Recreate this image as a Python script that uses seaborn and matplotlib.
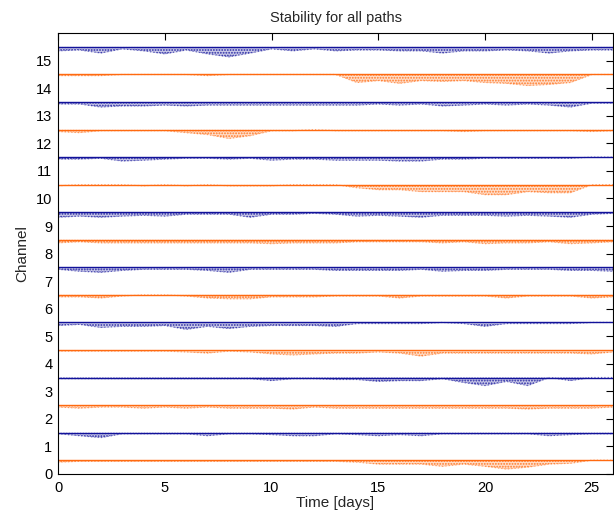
import numpy as np
import pandas as pd
import matplotlib
matplotlib.use("Agg")
import matplotlib.pyplot as plt
import seaborn as sns

# ---------------- data ----------------
title = "Stability for all paths"
x_label = "Time [days]"
y_label = "Channel"
x_ticks = [0, 5, 10, 15, 20, 25]
y_ticks = list(range(16))

# sample days for the read-off envelopes
days = list(range(27))
channels = list(range(16))
baselines = [c + 0.5 for c in channels]

# depth of scattered samples below each channel's baseline (channel units), read at each day
depth_ch0 = [0.07, 0.04, 0.04, 0.04, 0.04, 0.04, 0.04, 0.04, 0.04, 0.04, 0.04, 0.04, 0.04, 0.04, 0.07, 0.14, 0.14, 0.14, 0.22, 0.14, 0.22, 0.32, 0.25, 0.14, 0.11, 0.0, 0.0]
depth_ch1 = [0.04, 0.11, 0.18, 0.04, 0.04, 0.04, 0.04, 0.11, 0.04, 0.04, 0.07, 0.11, 0.11, 0.04, 0.07, 0.11, 0.07, 0.11, 0.04, 0.04, 0.04, 0.04, 0.04, 0.11, 0.07, 0.04, 0.04]
depth_ch2 = [0.07, 0.11, 0.07, 0.07, 0.11, 0.07, 0.11, 0.07, 0.11, 0.11, 0.11, 0.14, 0.07, 0.11, 0.11, 0.11, 0.11, 0.11, 0.11, 0.11, 0.11, 0.11, 0.14, 0.11, 0.11, 0.11, 0.07]
depth_ch3 = [0.04, 0.04, 0.04, 0.04, 0.04, 0.04, 0.04, 0.04, 0.04, 0.04, 0.11, 0.04, 0.04, 0.07, 0.07, 0.14, 0.11, 0.11, 0.04, 0.18, 0.29, 0.14, 0.29, 0.0, 0.11, 0.0, 0.0]
depth_ch4 = [0.04, 0.04, 0.04, 0.04, 0.04, 0.04, 0.07, 0.11, 0.04, 0.07, 0.14, 0.18, 0.14, 0.11, 0.11, 0.07, 0.11, 0.22, 0.11, 0.11, 0.11, 0.11, 0.11, 0.11, 0.11, 0.14, 0.07]
depth_ch5 = [0.11, 0.07, 0.18, 0.14, 0.14, 0.11, 0.25, 0.14, 0.22, 0.14, 0.11, 0.11, 0.11, 0.14, 0.04, 0.04, 0.04, 0.04, 0.0, 0.04, 0.14, 0.04, 0.04, 0.04, 0.04, 0.0, 0.0]
depth_ch6 = [0.07, 0.07, 0.11, 0.04, 0.0, 0.0, 0.04, 0.11, 0.14, 0.14, 0.07, 0.07, 0.07, 0.04, 0.04, 0.04, 0.11, 0.04, 0.04, 0.04, 0.04, 0.11, 0.04, 0.04, 0.04, 0.11, 0.07]
depth_ch7 = [0.07, 0.14, 0.18, 0.11, 0.07, 0.07, 0.07, 0.11, 0.18, 0.07, 0.07, 0.07, 0.07, 0.11, 0.11, 0.11, 0.11, 0.07, 0.14, 0.11, 0.11, 0.07, 0.07, 0.07, 0.11, 0.11, 0.14]
depth_ch8 = [0.11, 0.07, 0.11, 0.11, 0.11, 0.11, 0.11, 0.11, 0.11, 0.11, 0.14, 0.11, 0.11, 0.11, 0.07, 0.07, 0.07, 0.07, 0.11, 0.07, 0.14, 0.11, 0.11, 0.07, 0.14, 0.11, 0.07]
depth_ch9 = [0.18, 0.14, 0.18, 0.14, 0.11, 0.14, 0.07, 0.07, 0.07, 0.18, 0.07, 0.07, 0.04, 0.07, 0.14, 0.11, 0.14, 0.18, 0.11, 0.11, 0.11, 0.14, 0.11, 0.14, 0.18, 0.07, 0.04]
depth_ch10 = [0.04, 0.0, 0.0, 0.0, 0.04, 0.0, 0.04, 0.0, 0.04, 0.04, 0.04, 0.0, 0.0, 0.0, 0.11, 0.18, 0.18, 0.25, 0.25, 0.25, 0.36, 0.36, 0.25, 0.29, 0.29, 0.0, 0.0]
depth_ch11 = [0.07, 0.07, 0.04, 0.14, 0.11, 0.07, 0.04, 0.04, 0.07, 0.04, 0.11, 0.07, 0.07, 0.11, 0.11, 0.11, 0.14, 0.14, 0.07, 0.07, 0.04, 0.04, 0.04, 0.04, 0.04, 0.0, 0.0]
depth_ch12 = [0.07, 0.11, 0.04, 0.04, 0.04, 0.04, 0.11, 0.18, 0.32, 0.22, 0.04, 0.04, 0.0, 0.04, 0.04, 0.04, 0.04, 0.04, 0.04, 0.07, 0.04, 0.04, 0.04, 0.04, 0.04, 0.07, 0.04]
depth_ch13 = [0.07, 0.07, 0.18, 0.14, 0.14, 0.11, 0.14, 0.11, 0.11, 0.11, 0.11, 0.11, 0.11, 0.11, 0.11, 0.07, 0.11, 0.07, 0.14, 0.11, 0.07, 0.11, 0.07, 0.11, 0.18, 0.04, 0.04]
depth_ch14 = [0.04, 0.04, 0.04, 0.0, 0.0, 0.0, 0.0, 0.04, 0.0, 0.0, 0.0, 0.0, 0.0, 0.0, 0.29, 0.22, 0.32, 0.22, 0.25, 0.22, 0.29, 0.32, 0.40, 0.36, 0.29, 0.0, 0.0]
depth_ch15 = [0.14, 0.11, 0.22, 0.07, 0.14, 0.25, 0.11, 0.25, 0.36, 0.22, 0.07, 0.14, 0.07, 0.14, 0.11, 0.11, 0.14, 0.14, 0.22, 0.14, 0.14, 0.11, 0.14, 0.22, 0.14, 0.11, 0.11]

depths = [depth_ch0, depth_ch1, depth_ch2, depth_ch3, depth_ch4, depth_ch5, depth_ch6, depth_ch7,
          depth_ch8, depth_ch9, depth_ch10, depth_ch11, depth_ch12, depth_ch13, depth_ch14, depth_ch15]

# ---------------- style ----------------
sns.set_theme(style="white")
plt.rcParams["font.family"] = ["Liberation Sans", "DejaVu Sans"]
plt.rcParams["hatch.linewidth"] = 0.9

ORANGE = "#ff6a10"
BLUE = "#12129a"
colors = [ORANGE if c % 2 == 0 else BLUE for c in channels]

fig = plt.figure(figsize=(6.14, 5.18), dpi=100)
ax = fig.add_axes([0.0945, 0.085, 0.904, 0.851])

rows = []
for c, base, dep in zip(channels, baselines, depths):
    for d, v in zip(days, dep):
        rows.append({"day": d, "channel": c, "low": base - v, "base": base})
df = pd.DataFrame(rows)

for c, col in zip(channels, colors):
    sub = df[df["channel"] == c]
    ax.fill_between(sub["day"], sub["low"], sub["base"], facecolor=col, alpha=0.22, linewidth=0)
    ax.fill_between(sub["day"], sub["low"], sub["base"], facecolor="none", edgecolor=col,
                    hatch="......", linewidth=0, alpha=0.85)
    sns.lineplot(data=sub, x="day", y="low", ax=ax, color=col, lw=0.9, alpha=0.55,
                 linestyle=":", estimator=None, legend=False)

base_df = pd.DataFrame({"day": [0, 26] * 16,
                        "base": [b for b in baselines for _ in range(2)],
                        "channel": [c for c in channels for _ in range(2)]})
for c, col in zip(channels, colors):
    sub = base_df[base_df["channel"] == c]
    sns.lineplot(data=sub, x="day", y="base", ax=ax, color=col, lw=1.0,
                 estimator=None, legend=False)

ax.set_xlim(0, 26)
ax.set_ylim(0, 16)
ax.set_xticks(x_ticks)
ax.set_yticks(y_ticks)
ax.tick_params(direction="in", length=5, width=0.8, top=True, right=True,
               labelsize=10.5, colors="black", pad=4)
ax.tick_params(axis="x", pad=5)
for s in ax.spines.values():
    s.set_color("black")
    s.set_linewidth(0.8)

ax.set_xlabel(x_label, fontsize=11, labelpad=1)
ax.set_ylabel(y_label, fontsize=11, labelpad=5)
ax.set_title(title, fontsize=10.5, pad=8)

fig.savefig("out.png", dpi=100)
